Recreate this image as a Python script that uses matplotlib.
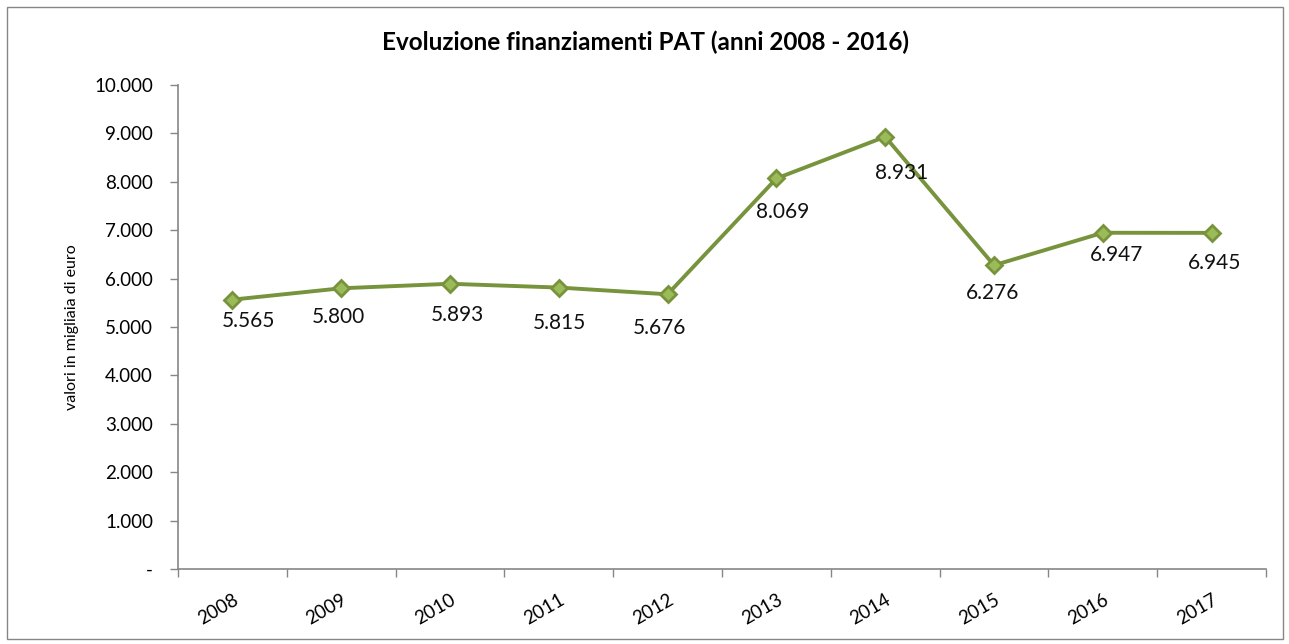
import matplotlib.pyplot as plt
from matplotlib.patches import Rectangle
from matplotlib.ticker import FuncFormatter, FixedLocator

years = ['2008', '2009', '2010', '2011', '2012', '2013', '2014', '2015', '2016', '2017']
values = [5565, 5800, 5893, 5815, 5676, 8069, 8931, 6276, 6947, 6945]

# label placement relative to each point (pixels, as Excel placed them)
label_dx = [16, -3, 7, 1, -8, 6, 16, -1, 14, 3]
label_dy = [21, 29, 31, 35, 34, 34, 36, 28, 22, 30]

plt.rcParams['font.family'] = ['Lato', 'DejaVu Sans']


def fmt_it(v, pos=None):
    if v == 0:
        return '-'
    return f"{int(round(v)):,}".replace(',', '.')


fig = plt.figure(figsize=(12.89, 6.44), dpi=100)
fig.patches.append(Rectangle((7 / 1289, 5 / 644), 1276 / 1289, 632 / 644,
                             transform=fig.transFigure, fill=False,
                             edgecolor='#868686', lw=1))
ax = fig.add_axes([178 / 1289, 1 - 569 / 644, (1266 - 178) / 1289, (569 - 85) / 644])

x = list(range(len(years)))
ax.plot(x, values, color='#77933C', lw=2.8, marker='D', markersize=8,
        markerfacecolor='#9BBB59', markeredgecolor='#77933C', markeredgewidth=2,
        zorder=3)
for xi, v, dx, dy in zip(x, values, label_dx, label_dy):
    ax.annotate(fmt_it(v), (xi, v), xytext=(dx * 0.72, -dy * 0.72),
                textcoords='offset points', ha='center', va='center',
                fontsize=15, color='#111111')

ax.set_xlim(-0.5, len(years) - 0.5)
ax.set_ylim(0, 10000)
ax.set_yticks(range(0, 10001, 1000))
ax.yaxis.set_major_formatter(FuncFormatter(fmt_it))
ax.xaxis.set_major_locator(FixedLocator([i - 0.5 for i in range(len(years) + 1)]))
ax.xaxis.set_major_formatter(FuncFormatter(lambda v, p: ''))
ax.xaxis.set_minor_locator(FixedLocator(x))
ax.set_xticklabels(years, minor=True)
ax.tick_params(axis='x', which='major', length=6, color='#868686', width=1)
ax.tick_params(axis='x', which='minor', length=0, labelsize=13.5, pad=16)
for lab in ax.get_xticklabels(minor=True):
    lab.set_rotation(30)
    lab.set_ha('right')
    lab.set_va('top')
    lab.set_rotation_mode('anchor')
ax.tick_params(axis='y', length=6, color='#868686', width=1, labelsize=13.5, pad=12)

for s in ['top', 'right']:
    ax.spines[s].set_visible(False)
for s in ['left', 'bottom']:
    ax.spines[s].set_color('#868686')
    ax.spines[s].set_linewidth(1.2)

ax.set_ylabel('valori in migliaia di euro', fontsize=11.5, labelpad=11)
fig.text(645 / 1289, 1 - 42 / 644, 'Evoluzione finanziamenti PAT (anni 2008 - 2016)',
         ha='center', va='center', fontsize=17.5, fontweight='bold')

fig.savefig('out.png', dpi=100)
